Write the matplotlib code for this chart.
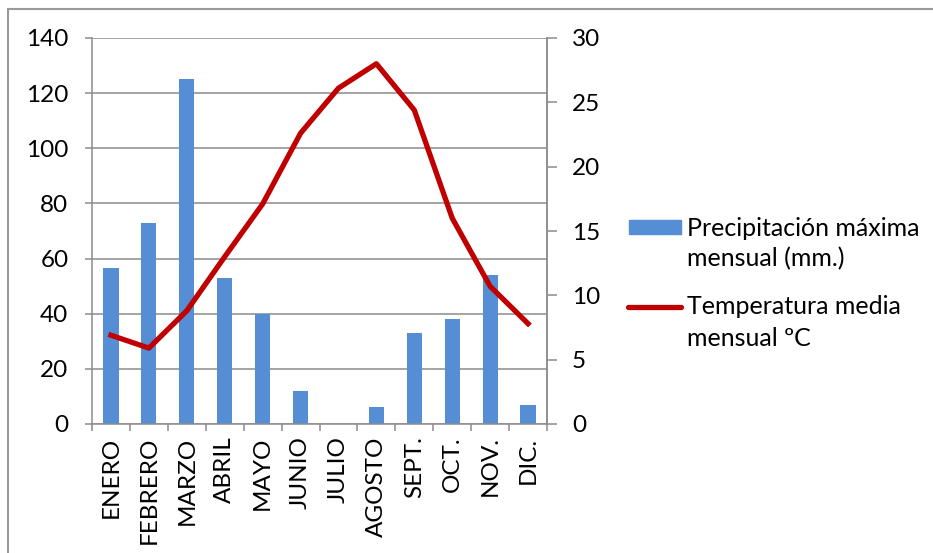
import matplotlib
matplotlib.use("Agg")
import matplotlib.pyplot as plt
from matplotlib.lines import Line2D
from matplotlib.patches import Rectangle

BAR_COLOR = "#558ED5"
LINE_COLOR = "#C00000"
GRID_COLOR = "#8C8C8C"
W, H = 933, 553

months = ["ENERO", "FEBRERO", "MARZO", "ABRIL", "MAYO", "JUNIO",
          "JULIO", "AGOSTO", "SEPT.", "OCT.", "NOV.", "DIC."]
precip = [56.5, 73, 125, 53, 40, 12, 0, 6, 33, 38, 54, 7]
temp = [6.9, 5.9, 8.8, 13.0, 17.1, 22.6, 26.1, 28.0, 24.4, 16.0, 10.7, 7.8]
legend_lines = [["Precipitación máxima", "mensual (mm.)"],
                ["Temperatura media", "mensual ºC"]]

plt.rcParams["font.family"] = ["Lato", "DejaVu Sans"]
plt.rcParams["font.size"] = 17.5


def fx(px):
    return px / W


def fy(py):
    return 1 - py / H


fig = plt.figure(figsize=(9.33, 5.53), dpi=100)

# outer chart frame (only left and top edges fall inside the image)
fig.add_artist(Line2D([fx(8), fx(8)], [0, fy(9)], color="#9A9A9A", lw=1.5))
fig.add_artist(Line2D([fx(8), 1], [fy(9), fy(9)], color="#9A9A9A", lw=1.5))

ax = fig.add_axes([fx(92), fy(424), fx(547 - 92), (424 - 38) / H])
x = list(range(len(months)))
ax.bar(x, precip, width=0.4, color=BAR_COLOR, zorder=2)
ax.set_xlim(-0.5, 11.5)
ax.set_ylim(0, 140)
ax.set_yticks(range(0, 141, 20))
ax.grid(axis="y", color=GRID_COLOR, lw=1.1, zorder=0)
ax.set_axisbelow(True)

ax.set_xticks(x)
ax.set_xticklabels(months, rotation=90)
ax.tick_params(axis="x", length=0, pad=9)
ax.set_xticks([i - 0.5 for i in range(13)], minor=True)
ax.tick_params(axis="x", which="minor", length=5, color=GRID_COLOR, width=1.1)
ax.tick_params(axis="y", length=5, color=GRID_COLOR, width=1.1, pad=12)

for side in ["left", "bottom", "right"]:
    ax.spines[side].set_color(GRID_COLOR)
    ax.spines[side].set_linewidth(1.1)
ax.spines["top"].set_visible(False)

ax2 = ax.twinx()
ax2.plot(x, temp, color=LINE_COLOR, lw=3.8, solid_joinstyle="round", zorder=3)
ax2.set_ylim(0, 30)
ax2.set_yticks(range(0, 31, 5))
ax2.tick_params(axis="y", length=7, color=GRID_COLOR, width=1.1, pad=11)
for side in ["left", "bottom", "top"]:
    ax2.spines[side].set_visible(False)
ax2.spines["right"].set_color(GRID_COLOR)
ax2.spines["right"].set_linewidth(1.1)

# legend, with each key next to the first line of its label
fig.add_artist(Rectangle((fx(629), fy(234)), fx(681 - 629), 14 / H,
                         transform=fig.transFigure, color=BAR_COLOR))
fig.add_artist(Line2D([fx(628), fx(681)], [fy(307), fy(307)], color=LINE_COLOR,
                      lw=3.8, solid_capstyle="round"))
for top, lines in zip([228, 307], legend_lines):
    for k, line in enumerate(lines):
        fig.text(fx(687), fy(top + 31 * k), line, va="center", ha="left", fontsize=18)

fig.savefig("out.png", dpi=100, facecolor="white")
